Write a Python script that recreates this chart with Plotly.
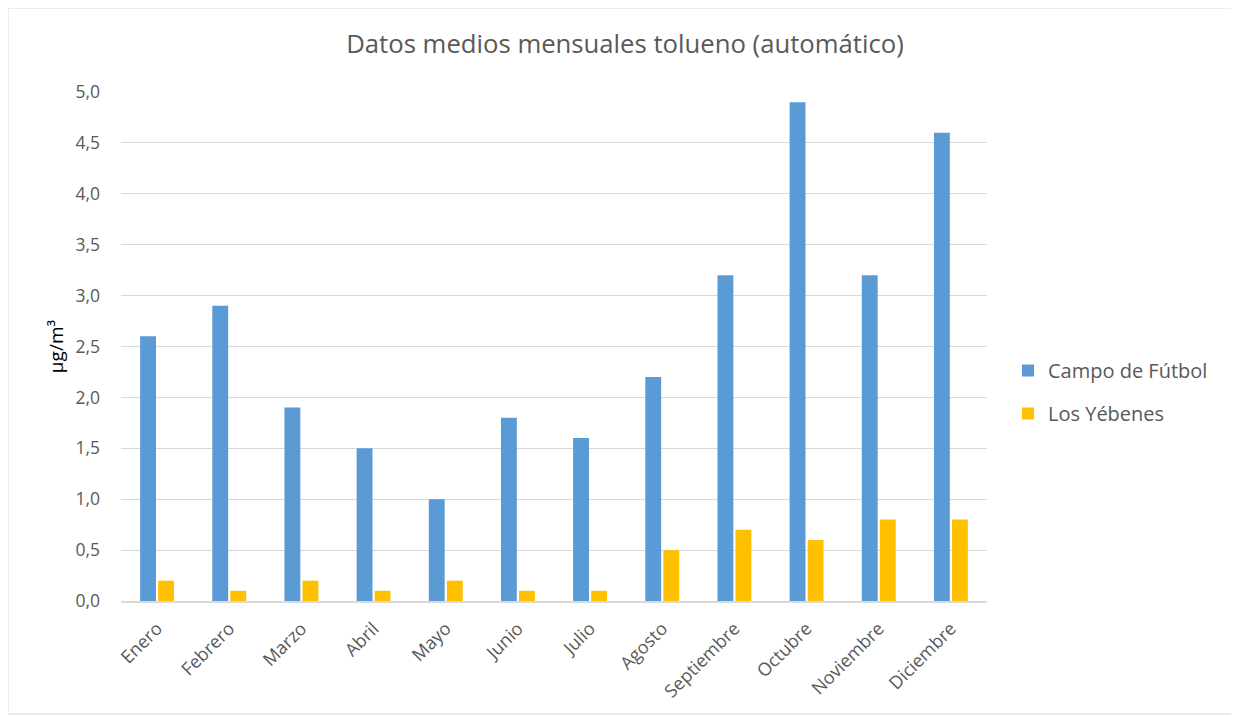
import plotly.graph_objects as go

meses = ["Enero", "Febrero", "Marzo", "Abril", "Mayo", "Junio", "Julio",
         "Agosto", "Septiembre", "Octubre", "Noviembre", "Diciembre"]
campo_futbol = [2.6, 2.9, 1.9, 1.5, 1.0, 1.8, 1.6, 2.2, 3.2, 4.9, 3.2, 4.6]
los_yebenes = [0.2, 0.1, 0.2, 0.1, 0.2, 0.1, 0.1, 0.5, 0.7, 0.6, 0.8, 0.8]

FONT = "Open Sans"
GREY = "#595959"

fig = go.Figure()
fig.add_trace(go.Bar(x=meses, y=campo_futbol, name="Campo de Fútbol",
                     marker=dict(color="#5B9BD5", line=dict(width=0)),
                     legendgroup="a"))
fig.add_trace(go.Bar(x=meses, y=los_yebenes, name="Los Yébenes",
                     marker=dict(color="#FFC000", line=dict(width=0)),
                     legendgroup="b"))

OFF = 8  # page body margin
W, H = 1239 - OFF, 717 - OFF
L, R, T, B = 121 - OFF, 1239 - 987, 92 - OFF, 717 - 601
pw, ph = W - L - R, H - T - B

def px(x):
    return (x - OFF - L) / pw

def py(y):
    return (H - B - (y - OFF)) / ph

fig.update_layout(
    width=W, height=H,
    margin=dict(l=L, r=R, t=T, b=B),
    paper_bgcolor="white", plot_bgcolor="white",
    separators=",.",
    barmode="group", bargap=0.5, bargroupgap=0.12,
    title=dict(text="Datos medios mensuales tolueno (automático)",
               x=(625 - OFF) / W, xanchor="center",
               y=1 - (44 - OFF) / H, yanchor="middle",
               font=dict(family=FONT, size=25.7, color=GREY)),
    font=dict(family=FONT, color=GREY),
    xaxis=dict(tickangle=-45, tickfont=dict(size=18, color=GREY),
               showgrid=False, showline=True, linecolor="#D9D9D9",
               linewidth=2, ticks="", ticklabelstandoff=8),
    yaxis=dict(range=[0, 5], dtick=0.5, tickformat=".1f",
               tickfont=dict(size=17.5, color=GREY),
               showgrid=True, gridcolor="#D9D9D9", gridwidth=1,
               zeroline=False, showline=False, ticks="",
               ticklabelstandoff=20,
               title=dict(text="µg/m³", font=dict(size=19, color="black"),
                          standoff=6)),
    legend=dict(x=px(1008), y=py(351), xanchor="left", yanchor="top",
                font=dict(size=20, color=GREY), tracegroupgap=14,
                traceorder="grouped", itemwidth=30, bgcolor="rgba(0,0,0,0)"),
    shapes=[dict(type="rect", xref="paper", yref="paper",
                 x0=px(8), x1=px(1236), y0=py(714), y1=py(8),
                 line=dict(color="#D9D9D9", width=1), layer="below")],
)

fig.write_html("out.html")
